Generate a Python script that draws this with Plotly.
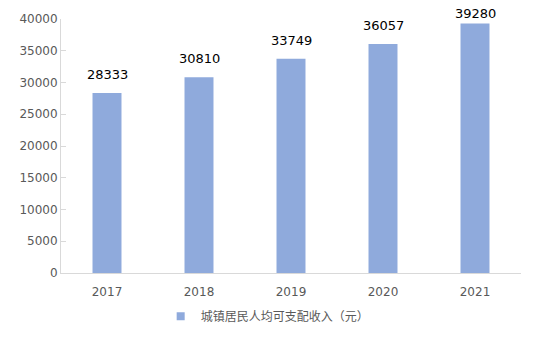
import plotly.graph_objects as go

years = ["2017", "2018", "2019", "2020", "2021"]
income = [28333, 30810, 33749, 36057, 39280]
series_name = "城镇居民人均可支配收入（元）"
bar_color = "#8faadc"
label_shift = [9, 9, 9, 9, 1]  # last label pressed against the top of the chart

fig = go.Figure()
fig.add_trace(go.Bar(
    x=years, y=income, name=series_name, showlegend=False,
    marker=dict(color=bar_color, line=dict(width=0)),
    width=0.315,
))
# legend entry with a small square
fig.add_trace(go.Scatter(
    x=[None], y=[None], mode="markers", name=series_name,
    marker=dict(symbol="square", size=8, color=bar_color),
))
for i, v in enumerate(income):
    fig.add_annotation(x=i, y=v, text=str(v), showarrow=False,
                       yanchor="bottom", yshift=label_shift[i],
                       font=dict(size=13, color="#000000", family="DejaVu Sans"))

fig.update_layout(
    width=541, height=340,
    margin=dict(l=61, r=20, t=19, b=67, autoexpand=False),
    paper_bgcolor="white", plot_bgcolor="white",
    font=dict(family="DejaVu Sans", size=12, color="#595959"),
    showlegend=True,
    legend=dict(orientation="h", xref="container", x=0.297, xanchor="left",
                yref="container", y=0.07, yanchor="middle", itemwidth=30,
                font=dict(family="Noto Sans CJK SC", size=12, color="#595959")),
    xaxis=dict(type="category", categoryorder="array", categoryarray=years,
               range=[-0.5, len(years) - 0.5],
               showline=True, linecolor="#d9d9d9", linewidth=1,
               ticks="", ticklabelstandoff=8,
               tickfont=dict(size=12, color="#595959")),
    yaxis=dict(range=[0, 40000], dtick=5000, showgrid=False, showline=True,
               linecolor="#d9d9d9", linewidth=1, ticks="inside", ticklen=5,
               tickcolor="#d9d9d9", tickformat="d", zeroline=False,
               tickfont=dict(size=12, color="#595959")),
)
fig.write_html("out.html")
